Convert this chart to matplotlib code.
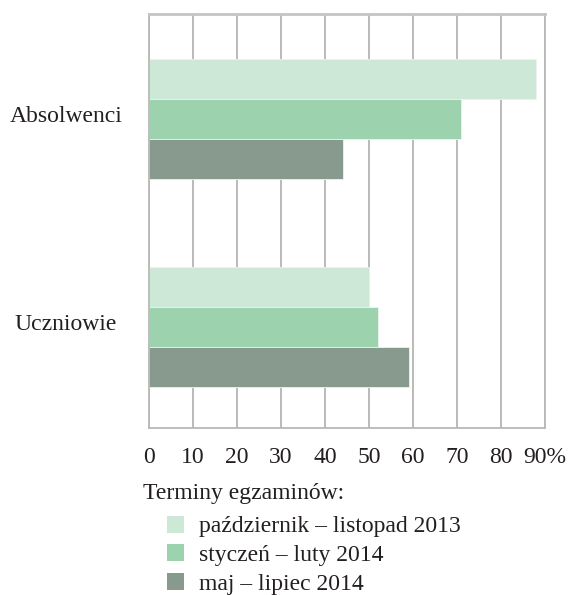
import numpy as np
import matplotlib
matplotlib.use('Agg')
import matplotlib.pyplot as plt
from matplotlib.patches import Patch
from matplotlib.transforms import blended_transform_factory

plt.rcParams['font.family'] = ['Liberation Serif', 'DejaVu Serif']

categories = ['Uczniowie', 'Absolwenci']
series_names = ['październik – listopad 2013', 'styczeń – luty 2014', 'maj – lipiec 2014']
series_values = [
    [50, 88],   # październik – listopad 2013
    [52, 71],   # styczeń – luty 2014
    [59, 44],   # maj – lipiec 2014
]
colors = ['#cde8d6', '#9cd3ae', '#879a8d']
x_ticks = [0, 10, 20, 30, 40, 50, 60, 70, 80, 90]
x_tick_labels = ['0', '10', '20', '30', '40', '50', '60', '70', '80', '90%']
legend_title = 'Terminy egzaminów:'

fig = plt.figure(figsize=(5.71, 5.95), dpi=100)
ax = fig.add_axes([149 / 571, 1 - 428 / 595, 396 / 571, 414 / 595])

y = np.arange(len(categories))
h = 0.192
for i, (vals, c) in enumerate(zip(series_values, colors)):
    ax.barh(y + (1 - i) * h, vals, height=h, color=c,
            edgecolor='#eef4ef', linewidth=0.6, zorder=2)

ax.set_xlim(0, 90)
ax.set_ylim(-0.486, 1.505)
ax.set_xticks(x_ticks)
ax.set_xticklabels(x_tick_labels, fontsize=17)
ax.tick_params(axis='x', length=0, pad=14, colors='#231f20')
ax.set_yticks([])
ax.grid(axis='x', color='#b4b4b4', linewidth=1.3)
ax.set_axisbelow(True)
for s in ax.spines.values():
    s.set_color('#b8b8b8')
    s.set_linewidth(1.3)
ax.spines['top'].set_linewidth(2)
ax.spines['top'].set_color('#c4c4c4')

trans = blended_transform_factory(ax.transAxes, ax.transData)
for yi, lab in zip(y, categories):
    ax.text(-0.21, yi + 0.01, lab, transform=trans, ha='center', va='center',
            fontsize=17, color='#231f20')

fig.text(143 / 571, 1 - 494 / 595, legend_title, fontsize=17,
         color='#231f20', va='center', ha='left')
handles = [Patch(facecolor=c, edgecolor='none') for c in colors]
fig.legend(handles, series_names, loc='upper left',
           bbox_to_anchor=(162 / 571, 1 - 511 / 595), frameon=False,
           fontsize=17, handlelength=0.72, handleheight=0.72,
           handletextpad=0.66, labelspacing=0.3, borderaxespad=0,
           borderpad=0.2, labelcolor='#231f20')

fig.savefig('out.png', dpi=100)
